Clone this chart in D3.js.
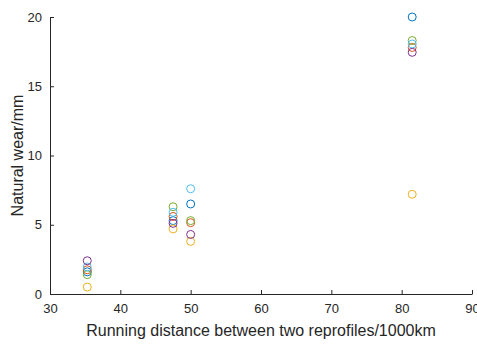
<!DOCTYPE html>
<html>
<head>
<meta charset="utf-8">
<script src="https://cdn.jsdelivr.net/npm/d3@7"></script>
<style>
  body { margin: 0; background: #fff; }
  .axis text { font-family: "Liberation Sans", Arial, sans-serif; font-size: 13px; fill: #262626; }
  .axis path, .axis line { stroke: #262626; }
  .label { font-family: "Liberation Sans", Arial, sans-serif; font-size: 16px; fill: #262626; }
</style>
</head>
<body>
<svg id="chart" width="477" height="344"></svg>
<script>
// natural wear vs running distance

var svg = d3.select("#chart");

var xs = [35.3, 47.5, 50, 81.5];
var xTicks = [30, 40, 50, 60, 70, 80, 90];
var yTicks = [0, 5, 10, 15, 20];

// one array per series, values at each x
var sBlue = [1.6, 5.3, 6.5, 20.0];
var sRed = [1.75, 5.6, 5.15, 17.8];
var sYellow = [0.5, 4.7, 3.8, 7.2];
var sPurple = [2.4, 5.1, 4.3, 17.45];
var sGreen = [1.4, 6.3, 5.3, 18.3];
var sCyan = [1.95, 5.9, 7.6, 18.05];

var series = [sBlue, sRed, sYellow, sPurple, sGreen, sCyan];
var cmap = ['#0072BD', '#D95319', '#EDB120', '#7E2F8E', '#77AC30', '#4DBEEE'];

var margin = {top: 17, right: 5, bottom: 50, left: 50};
var width = 472 - margin.left;
var height = 294 - margin.top;

var g = svg.append("g")
    .attr("transform", "translate(" + margin.left + "," + margin.top + ")");

var x = d3.scaleLinear().domain([30, 90]).range([0, width]);
var y = d3.scaleLinear().domain([0, 20]).range([height, 0]);

// axes, ticks inward
g.append("g")
    .attr("class", "axis")
    .attr("transform", "translate(0," + height + ")")
    .call(d3.axisBottom(x).tickValues(xTicks).tickSizeInner(-4).tickSizeOuter(0).tickPadding(10));

g.append("g")
    .attr("class", "axis")
    .call(d3.axisLeft(y).tickValues(yTicks).tickSizeInner(-4).tickSizeOuter(0).tickPadding(8));

// points (purple drawn last so it sits on top like the original)
var order = [0, 1, 2, 4, 5, 3];
order.forEach(function(i) {
    g.selectAll(null)
        .data(series[i])
        .enter().append("circle")
        .attr("cx", function(d, j) { return x(xs[j]); })
        .attr("cy", function(d) { return y(d); })
        .attr("r", 4)
        .attr("fill", "none")
        .attr("stroke", cmap[i])
        .attr("stroke-width", 1);
});

// labels
svg.append("text")
    .attr("class", "label")
    .attr("x", margin.left + width / 2)
    .attr("y", 336)
    .attr("text-anchor", "middle")
    .text("Running distance between two reprofiles/1000km");

svg.append("text")
    .attr("class", "label")
    .attr("transform", "translate(23," + (margin.top + height / 2) + ") rotate(-90)")
    .attr("text-anchor", "middle")
    .text("Natural wear/mm");
</script>
</body>
</html>
